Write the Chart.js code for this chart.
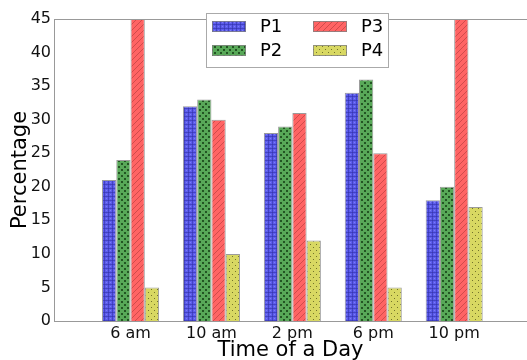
<!DOCTYPE html>
<html>
<head>
<meta charset="utf-8">
<script src="https://cdn.jsdelivr.net/npm/chart.js@4"></script>
<style>
  html, body { margin: 0; padding: 0; background: #fff; }
  #wrap { width: 527px; height: 360px; }
</style>
</head>
<body>
<div id="wrap"><canvas id="chart" width="527" height="360"></canvas></div>
<script>
// data
const timeLabels = ["6 am", "10 am", "2 pm", "6 pm", "10 pm"];
const seriesNames = ["P1", "P2", "P3", "P4"];
const p1 = [21, 32, 28, 34, 18];
const p2 = [24, 33, 29, 36, 20];
const p3 = [50, 30, 31, 25, 50];   // 6 am and 10 pm run past the top
const p4 = [5, 10, 12, 5, 17];
const yTicks = [0, 5, 10, 15, 20, 25, 30, 35, 40, 45];

// hatch tiles, like matplotlib hatching
function makePattern(kind) {
    const c = document.createElement("canvas");
    const s = kind === "circles" ? 4 : 6;
    c.width = s; c.height = s;
    const g = c.getContext("2d");
    if (kind === "circles") {
        g.fillStyle = "rgb(92,92,236)";
        g.fillRect(0, 0, s, s);
        g.fillStyle = "rgba(50,50,170,0.6)";
        g.fillRect(0, 0, 4, 1);
        g.fillRect(0, 0, 1, 4);
        g.fillStyle = "rgba(140,140,250,0.7)";
        g.fillRect(2, 2, 1, 1);
    } else if (kind === "bigdots") {
        g.fillStyle = "rgb(88,168,88)";
        g.fillRect(0, 0, s, s);
        g.fillStyle = "rgb(35,85,35)";
        g.fillRect(1, 1, 2, 2);
        g.fillRect(4, 4, 2, 2);
    } else if (kind === "lines") {
        g.fillStyle = "rgb(255,100,100)";
        g.fillRect(0, 0, s, s);
        g.strokeStyle = "rgba(170,55,55,0.7)";
        g.lineWidth = 0.8;
        g.beginPath();
        g.moveTo(0, s); g.lineTo(s, 0);
        g.moveTo(-s, s); g.lineTo(s, -s);
        g.moveTo(0, 2 * s); g.lineTo(2 * s, 0);
        g.stroke();
    } else {
        g.fillStyle = "rgb(216,216,98)";
        g.fillRect(0, 0, s, s);
        g.fillStyle = "rgba(90,90,30,0.8)";
        g.fillRect(1, 1, 1, 1);
        g.fillRect(4, 4, 1, 1);
    }
    return g.createPattern(c, "repeat");
}

const ctx = document.getElementById("chart").getContext("2d");
const patterns = [makePattern("circles"), makePattern("bigdots"), makePattern("lines"), makePattern("dots")];
const seriesValues = [p1, p2, p3, p4];

const datasets = seriesNames.map((name, k) => ({
    label: name,
    data: seriesValues[k].map((v, i) => ({ x: i, y: v })),
    backgroundColor: patterns[k],
    borderColor: "rgba(130,130,130,0.8)",
    borderWidth: 1,
    barPercentage: 1,
    categoryPercentage: 0.705,
    clip: 0
}));

// legend box inside the plot, 2 columns (P1,P2 | P3,P4)
const boxLegend = {
    id: "boxLegend",
    afterDraw(chart) {
        const a = chart.chartArea;
        const c = chart.ctx;
        const x0 = a.left + 152, y0 = a.top - 6, w = 182, h = 54;
        c.save();
        c.fillStyle = "#fff";
        c.fillRect(x0, y0, w, h);
        c.strokeStyle = "#aaa";
        c.lineWidth = 1;
        c.strokeRect(x0 + 0.5, y0 + 0.5, w, h);
        c.font = "18px 'DejaVu Sans'";
        c.textBaseline = "middle";
        c.fillStyle = "#000";
        chart.data.datasets.forEach((ds, k) => {
            const col = Math.floor(k / 2), row = k % 2;
            const sx = x0 + 6 + col * 101, sy = y0 + 8 + row * 24;
            c.fillStyle = ds.backgroundColor;
            c.fillRect(sx, sy, 34, 11);
            c.strokeStyle = "rgba(130,130,130,0.8)";
            c.strokeRect(sx + 0.5, sy + 0.5, 33, 10);
            c.fillStyle = "#000";
            c.fillText(ds.label, sx + 48, sy + 6);
        });
        c.restore();
    }
};

// top spine
const topSpine = {
    id: "topSpine",
    afterDatasetsDraw(chart) {
        const a = chart.chartArea;
        const c = chart.ctx;
        c.save();
        c.strokeStyle = "#999";
        c.lineWidth = 1;
        c.beginPath();
        c.moveTo(a.left, a.top + 0.5);
        c.lineTo(a.right, a.top + 0.5);
        c.stroke();
        c.restore();
    }
};

new Chart(ctx, {
    type: "bar",
    data: { datasets: datasets },
    plugins: [topSpine, boxLegend],
    options: {
        responsive: false,
        animation: false,
        events: [],
        layout: { padding: { top: 19, right: 0, left: 0, bottom: 0 } },
        plugins: { legend: { display: false }, tooltip: { enabled: false } },
        scales: {
            x: {
                type: "linear",
                min: -0.946,
                max: 4.90,
                offset: false,
                grid: { display: false, drawTicks: false },
                border: { display: true, color: "#999", width: 1 },
                afterBuildTicks: (s) => { s.ticks = timeLabels.map((_, i) => ({ value: i })); },
                afterFit: (s) => { s.height = 39; },
                ticks: {
                    autoSkip: false,
                    maxRotation: 0,
                    padding: 3,
                    color: "#111",
                    font: { family: "DejaVu Sans", size: 16 },
                    callback: (v) => timeLabels[v]
                },
                title: {
                    display: true,
                    text: "Time of a Day",
                    color: "#000",
                    font: { family: "DejaVu Sans", size: 21 },
                    padding: { top: 0, bottom: -3 }
                }
            },
            y: {
                min: 0,
                max: 45,
                grid: { display: false, drawTicks: false },
                border: { display: true, color: "#999", width: 1 },
                afterBuildTicks: (s) => { s.ticks = yTicks.map(v => ({ value: v })); },
                afterFit: (s) => { s.width = 54; },
                ticks: {
                    padding: 3,
                    color: "#111",
                    font: { family: "DejaVu Sans", size: 16 }
                },
                title: {
                    display: true,
                    text: "Percentage",
                    color: "#000",
                    font: { family: "DejaVu Sans", size: 21 },
                    padding: { top: 8, bottom: 0 }
                }
            }
        }
    }
});
</script>
</body>
</html>
